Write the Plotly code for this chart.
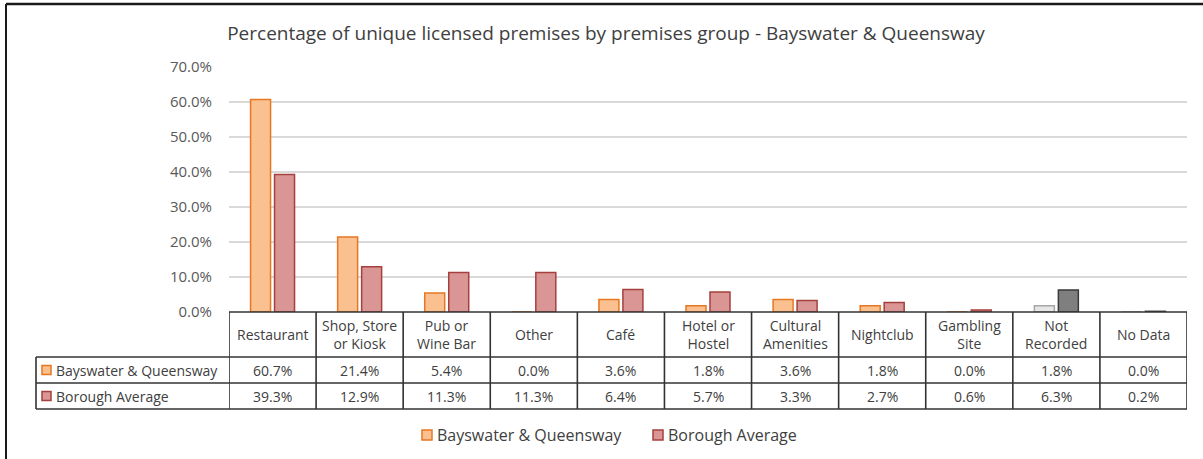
import plotly.graph_objects as go

# Premises groups (table header labels carry their line breaks)
categories = ["Restaurant", "Shop, Store or Kiosk", "Pub or Wine Bar", "Other", "Café",
              "Hotel or Hostel", "Cultural Amenities", "Nightclub", "Gambling Site",
              "Not Recorded", "No Data"]
header_labels = ["Restaurant", "Shop, Store<br>or Kiosk", "Pub or<br>Wine Bar", "Other", "Café",
                 "Hotel or<br>Hostel", "Cultural<br>Amenities", "Nightclub", "Gambling<br>Site",
                 "Not<br>Recorded", "No Data"]

bayswater = [60.7, 21.4, 5.4, 0.0, 3.6, 1.8, 3.6, 1.8, 0.0, 1.8, 0.0]
borough = [39.3, 12.9, 11.3, 11.3, 6.4, 5.7, 3.3, 2.7, 0.6, 6.3, 0.2]

series_names = ["Bayswater & Queensway", "Borough Average"]
y_ticks = [0, 10, 20, 30, 40, 50, 60, 70]
y_tick_text = [f"{v:.1f}%" for v in y_ticks]

# Colours
BW_FILL, BW_EDGE = "#FAC090", "#E87722"
BO_FILL, BO_EDGE = "#D99694", "#A5403E"
GREY_FILLS = {"Bayswater & Queensway": ("#E6E6E6", "#A6A6A6"),
              "Borough Average": ("#7F7F7F", "#3A3A3A")}
TEXT = "#404040"
FONT = "Open Sans"

# Unrecorded groups are shown in grey
grey_groups = {"Not Recorded", "No Data"}


def colours(name, fill, edge):
    gf, ge = GREY_FILLS[name]
    fills = [gf if c in grey_groups else fill for c in categories]
    edges = [ge if c in grey_groups else edge for c in categories]
    return fills, edges


W_FIG, H_FIG = 1203, 459
L, R, T, B = 229, 1187, 67, 312
PW, PH = R - L, B - T


def px_x(p):
    return (p - L) / PW


def px_y(p):
    return (B - p) / PH


fig = go.Figure()
for name, vals, fill, edge in [(series_names[0], bayswater, BW_FILL, BW_EDGE),
                               (series_names[1], borough, BO_FILL, BO_EDGE)]:
    fills, edges = colours(name, fill, edge)
    fig.add_trace(go.Bar(
        x=categories, y=vals, name=name, showlegend=False,
        marker=dict(color=fills, line=dict(color=edges, width=1.5)),
        hovertemplate="%{x}: %{y:.1f}%<extra>" + name + "</extra>",
    ))

shapes = []
annotations = []
line_style = dict(color="#333333", width=1.6)

# Outer chart frame (top and left edges)
shapes.append(dict(type="line", xref="paper", yref="paper",
                   x0=px_x(6), x1=px_x(1203), y0=px_y(4), y1=px_y(4),
                   line=dict(color="#1A1A1A", width=2.5)))
shapes.append(dict(type="line", xref="paper", yref="paper",
                   x0=px_x(6), x1=px_x(6), y0=px_y(4), y1=px_y(460),
                   line=dict(color="#1A1A1A", width=2)))

# Data table grid
row_lines = [312, 357, 383, 409]
for i, yp in enumerate(row_lines):
    x0 = L if i == 0 else 36
    shapes.append(dict(type="line", xref="paper", yref="paper",
                       x0=px_x(x0), x1=px_x(R), y0=px_y(yp), y1=px_y(yp), line=line_style))
shapes.append(dict(type="line", xref="paper", yref="paper",
                   x0=px_x(36), x1=px_x(36), y0=px_y(357), y1=px_y(409), line=line_style))
for k in range(len(categories) + 1):
    shapes.append(dict(type="line", xref="x", yref="paper",
                       x0=k - 0.5, x1=k - 0.5, y0=px_y(312), y1=px_y(409), line=line_style))

# Header cells
for cat, lab in zip(categories, header_labels):
    annotations.append(dict(x=cat, xref="x", y=px_y(334.5), yref="paper", text=lab,
                            showarrow=False, yanchor="middle", xanchor="center",
                            font=dict(family=FONT, size=14, color=TEXT)))

# Value rows
row_centres = [370, 396]
for vals, yc in zip([bayswater, borough], row_centres):
    for cat, v in zip(categories, vals):
        annotations.append(dict(x=cat, xref="x", y=px_y(yc), yref="paper",
                                text=f"{v:.1f}%", showarrow=False,
                                yanchor="middle", xanchor="center",
                                font=dict(family=FONT, size=14, color=TEXT)))

# Row labels with series keys
for name, fill, edge, yc in [(series_names[0], BW_FILL, BW_EDGE, 370),
                             (series_names[1], BO_FILL, BO_EDGE, 396)]:
    shapes.append(dict(type="rect", xref="paper", yref="paper",
                       x0=px_x(42), x1=px_x(51), y0=px_y(yc - 4.5), y1=px_y(yc + 4.5),
                       fillcolor=fill, line=dict(color=edge, width=1.5)))
    annotations.append(dict(x=px_x(54), xref="paper", y=px_y(yc), yref="paper",
                            text=name, showarrow=False, xanchor="left", yanchor="middle",
                            font=dict(family=FONT, size=14, color=TEXT)))

# Legend below the table
legend_y = 435
for name, fill, edge, xs in [(series_names[0], BW_FILL, BW_EDGE, 422),
                             (series_names[1], BO_FILL, BO_EDGE, 653)]:
    shapes.append(dict(type="rect", xref="paper", yref="paper",
                       x0=px_x(xs), x1=px_x(xs + 10), y0=px_y(legend_y - 5), y1=px_y(legend_y + 5),
                       fillcolor=fill, line=dict(color=edge, width=1.5)))
    annotations.append(dict(x=px_x(xs + 13), xref="paper", y=px_y(legend_y), yref="paper",
                            text=name, showarrow=False, xanchor="left", yanchor="middle",
                            font=dict(family=FONT, size=16, color=TEXT)))

fig.update_layout(
    width=W_FIG, height=H_FIG,
    margin=dict(l=L, r=W_FIG - R, t=T, b=H_FIG - B),
    paper_bgcolor="white", plot_bgcolor="white",
    showlegend=False,
    title=dict(text="Percentage of unique licensed premises by premises group - Bayswater & Queensway",
               xref="container", x=606 / W_FIG, xanchor="center",
               yref="container", y=1 - 33 / H_FIG, yanchor="middle",
               font=dict(family=FONT, size=19, color=TEXT)),
    barmode="group", bargap=0.449, bargroupgap=0.167,
    xaxis=dict(range=[-0.5, len(categories) - 0.5], showticklabels=False,
               showgrid=False, zeroline=False, showline=False, ticks=""),
    yaxis=dict(range=[0, 70], tickvals=y_ticks, ticktext=y_tick_text, tickmode="array",
               showgrid=True, gridcolor="#D9D9D9", gridwidth=1.5,
               zeroline=False, showline=False, ticks="", ticklabelstandoff=16,
               tickfont=dict(family=FONT, size=15, color="#595959")),
    shapes=shapes, annotations=annotations,
)

fig.write_html("out.html")
